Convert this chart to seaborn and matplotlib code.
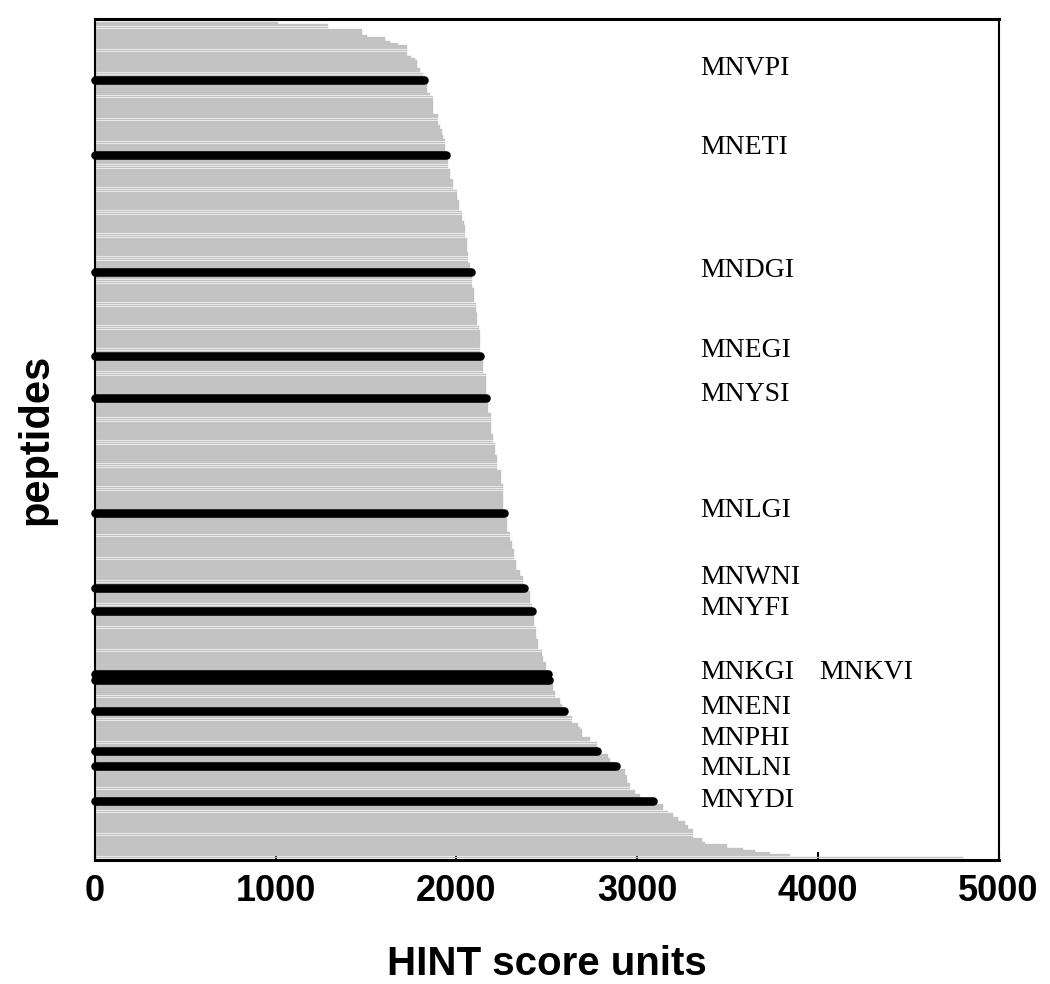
import matplotlib
matplotlib.use("Agg")
import matplotlib.pyplot as plt
import numpy as np
import pandas as pd
import seaborn as sns

# HINT scores of all 400 MNXXI peptides, sorted (lowest on top)
scores = [
    1012, 1289, 1289, 1477, 1477, 1477, 1505, 1604, 1604, 1632, 1676, 1724, 1724, 1728, 1728, 1728, 1748, 1770, 1780, 1780,
    1780, 1780, 1798, 1798, 1813, 1813, 1815, 1820, 1836, 1836, 1836, 1836, 1836, 1836, 1853, 1869, 1869, 1869, 1869, 1869,
    1869, 1869, 1869, 1869, 1897, 1897, 1897, 1897, 1897, 1908, 1908, 1919, 1919, 1919, 1925, 1925, 1936, 1936, 1936, 1936,
    1936, 1936, 1940, 1945, 1953, 1953, 1953, 1953, 1953, 1953, 1963, 1963, 1963, 1963, 1963, 1980, 1980, 1980, 1980, 1980,
    2002, 2002, 2002, 2002, 2002, 2013, 2013, 2013, 2013, 2013, 2030, 2030, 2030, 2030, 2030, 2041, 2041, 2046, 2046, 2046,
    2046, 2046, 2046, 2057, 2057, 2057, 2057, 2057, 2057, 2057, 2063, 2063, 2063, 2063, 2063, 2074, 2074, 2074, 2078, 2080,
    2085, 2085, 2085, 2085, 2085, 2085, 2085, 2096, 2096, 2096, 2096, 2096, 2096, 2096, 2107, 2107, 2107, 2107, 2107, 2113,
    2113, 2113, 2113, 2113, 2113, 2124, 2124, 2129, 2129, 2129, 2129, 2129, 2129, 2129, 2129, 2129, 2129, 2129, 2129, 2132,
    2140, 2146, 2146, 2146, 2146, 2146, 2146, 2146, 2163, 2163, 2163, 2163, 2163, 2163, 2163, 2163, 2163, 2163, 2163, 2165,
    2168, 2174, 2174, 2174, 2174, 2174, 2174, 2190, 2190, 2190, 2190, 2190, 2190, 2190, 2190, 2190, 2190, 2201, 2201, 2201,
    2201, 2212, 2212, 2212, 2212, 2212, 2212, 2223, 2223, 2223, 2223, 2223, 2223, 2223, 2245, 2245, 2245, 2245, 2245, 2245,
    2245, 2257, 2257, 2257, 2257, 2257, 2257, 2257, 2257, 2257, 2257, 2257, 2257, 2257, 2262, 2270, 2270, 2279, 2279, 2279,
    2279, 2279, 2279, 2279, 2295, 2295, 2295, 2295, 2306, 2306, 2306, 2306, 2317, 2317, 2317, 2317, 2317, 2328, 2328, 2328,
    2328, 2328, 2350, 2350, 2350, 2367, 2367, 2367, 2367, 2372, 2375, 2390, 2406, 2406, 2406, 2406, 2406, 2406, 2417, 2417,
    2417, 2420, 2424, 2428, 2428, 2428, 2428, 2428, 2428, 2439, 2439, 2439, 2439, 2439, 2439, 2450, 2450, 2450, 2450, 2450,
    2472, 2472, 2472, 2478, 2478, 2478, 2494, 2494, 2494, 2494, 2494, 2505, 2508, 2508, 2511, 2520, 2533, 2533, 2533, 2533,
    2544, 2544, 2544, 2572, 2572, 2572, 2583, 2583, 2583, 2594, 2610, 2610, 2638, 2638, 2638, 2672, 2672, 2683, 2694, 2694,
    2694, 2694, 2738, 2738, 2776, 2776, 2776, 2776, 2778, 2800, 2837, 2837, 2848, 2848, 2870, 2882, 2905, 2931, 2931, 2931,
    2942, 2942, 2942, 2942, 2959, 2959, 2959, 2990, 2990, 3014, 3014, 3050, 3086, 3110, 3142, 3142, 3142, 3169, 3197, 3197,
    3225, 3225, 3263, 3263, 3280, 3280, 3308, 3308, 3308, 3308, 3357, 3357, 3374, 3496, 3496, 3584, 3650, 3733, 3844, 4801,
]

# highlighted peptides and their rank in the sorted list
highlight_names = ["MNVPI", "MNETI", "MNDGI", "MNEGI", "MNYSI", "MNLGI", "MNWNI",
                   "MNYFI", "MNKGI", "MNKVI", "MNENI", "MNPHI", "MNLNI", "MNYDI"]
highlight_rank = [27, 63, 119, 159, 179, 234, 270, 281, 311, 314, 329, 348, 355, 372]

# where each name is written (score units, rank units)
label_x = [3350, 3350, 3350, 3350, 3350, 3350, 3350, 3350, 3350, 4010, 3350, 3350, 3350, 3350]
label_y = [21.7, 59.5, 118.4, 156.7, 177.6, 232.8, 265.3, 279.7, 310.7, 310.7, 327.3, 342.1, 356.5, 371.8]

xticks = [0, 1000, 2000, 3000, 4000, 5000]

df = pd.DataFrame({"rank": np.arange(len(scores)), "score": scores})

sns.set_theme(style="white")
plt.rcParams["font.family"] = ["Liberation Sans", "DejaVu Sans"]
plt.rcParams["text.color"] = "black"
plt.rcParams["axes.labelcolor"] = "black"
plt.rcParams["xtick.color"] = "black"

fig, ax = plt.subplots(figsize=(10.5, 9.84), dpi=100)
fig.subplots_adjust(left=0.0905, right=0.951, top=0.981, bottom=0.126)

sns.barplot(data=df, x="score", y="rank", orient="h", native_scale=True,
            color="#c8c8c8", saturation=1, width=0.9, errorbar=None,
            edgecolor="#b2b2b2", linewidth=0.2, ax=ax)

# highlighted peptides as thick black lines with round ends
for rank in highlight_rank:
    ax.plot([0, scores[rank]], [rank, rank], color="black", lw=6.2,
            solid_capstyle="round", zorder=5, clip_on=False)

for name, x, y in zip(highlight_names, label_x, label_y):
    ax.text(x, y, name, family="Liberation Serif", fontsize=20,
            ha="left", va="center", color="black")

ax.set_xlim(0, 5000)
ax.set_ylim(len(scores) + 0.2, -2.2)
ax.set_xticks(xticks)
ax.set_xticklabels([str(t) for t in xticks], fontsize=26, fontweight="bold")
ax.set_yticks([])
ax.tick_params(axis="x", direction="in", length=6, width=1.5, pad=10, bottom=True)
ax.set_xlabel("HINT score units", fontsize=29, fontweight="bold", labelpad=26)
ax.set_ylabel("peptides", fontsize=30, fontweight="bold", labelpad=28)

for side, lw in [("top", 2.2), ("bottom", 2.2), ("left", 1.5), ("right", 1.5)]:
    ax.spines[side].set_color("black")
    ax.spines[side].set_linewidth(lw)

fig.savefig("out.png", dpi=100)
